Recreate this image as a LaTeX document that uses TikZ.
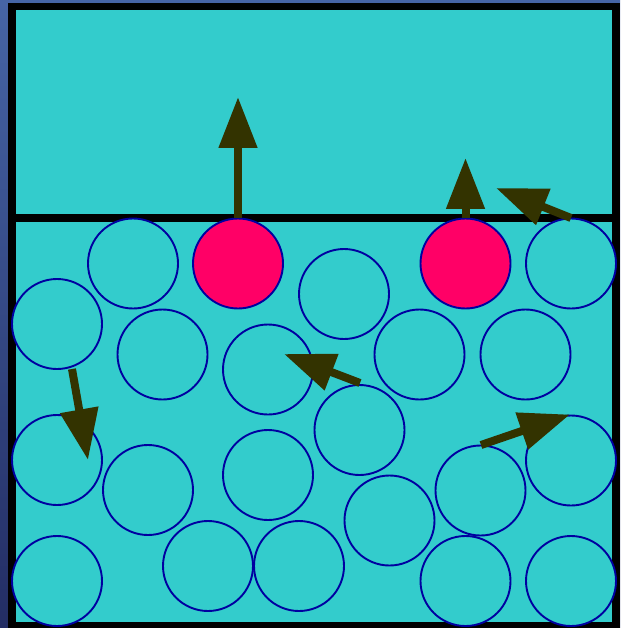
\documentclass[tikz,border=0pt]{standalone}
\usetikzlibrary{arrows.meta}
\definecolor{bgtop}{RGB}{70,100,165}
\definecolor{bgbot}{RGB}{35,45,100}
\definecolor{water}{RGB}{51,204,204}
\definecolor{hot}{RGB}{255,0,102}
\definecolor{rim}{RGB}{0,0,160}
\definecolor{vec}{RGB}{51,51,0}
\tikzset{
  mol/.style={circle,draw=rim,line width=1.9pt,fill=water,minimum size=90pt,inner sep=0pt},
  hotmol/.style={mol,fill=hot},
  vel/.style={draw=vec,line width=8pt,-{Triangle[length=51pt,width=37pt]}},
  wall/.style={draw=black,line width=7.7pt}
}
\begin{document}
\begin{tikzpicture}[x=1pt,y=-1pt]
\useasboundingbox (0,0) rectangle (620,628);
\shade[top color=bgtop,bottom color=bgbot] (0,0) rectangle (620,628);
\draw[wall,fill=water] (11.8,6.5) rectangle (616.2,625.5);
\coordinate (sl) at (11.8,218);
\coordinate (sr) at (616.2,218);
\draw[line width=8pt] (sl) -- (sr);
% molecules
\node[mol] (m1) at (133,263.5) {};
\node[hotmol] (h1) at (238,263.5) {};
\node[mol] (m2) at (344,294) {};
\node[hotmol] (h2) at (465.5,263.5) {};
\node[mol] (m3) at (571,263.5) {};
\node[mol] (m4) at (57,324) {};
\node[mol] (m5) at (162.5,354.5) {};
\node[mol] (m6) at (268,369.5) {};
\node[mol] (m7) at (419.5,354.5) {};
\node[mol] (m8) at (525.5,354.5) {};
\node[mol] (m9) at (359.5,430) {};
\node[mol] (m10) at (57,460) {};
\node[mol] (m11) at (148,490) {};
\node[mol] (m12) at (268,475) {};
\node[mol] (m13) at (480.5,490.5) {};
\node[mol] (m14) at (571,460.5) {};
\node[mol] (m15) at (389.5,520.5) {};
\node[mol] (m16) at (57,581) {};
\node[mol] (m17) at (208,566) {};
\node[mol] (m18) at (299,566) {};
\node[mol] (m19) at (465.5,581) {};
\node[mol] (m20) at (571,581) {};
% velocity arrows
\coordinate (t1) at (238,97);
\coordinate (t2) at (465.5,158);
\coordinate (a3) at (571,218);
\coordinate (t3) at (496,188);
\coordinate (a4) at (360,383);
\coordinate (t4) at (284,354);
\coordinate (a5) at (72,369);
\coordinate (t5) at (88,460);
\coordinate (a6) at (481,445);
\coordinate (t6) at (570,414.5);
\draw[vel] (h1.north) -- (t1);
\draw[vel] (h2.north) -- (t2);
\draw[vel] (a3) -- (t3);
\draw[vel] (a4) -- (t4);
\draw[vel] (a5) -- (t5);
\draw[vel] (a6) -- (t6);
\end{tikzpicture}
\end{document}
